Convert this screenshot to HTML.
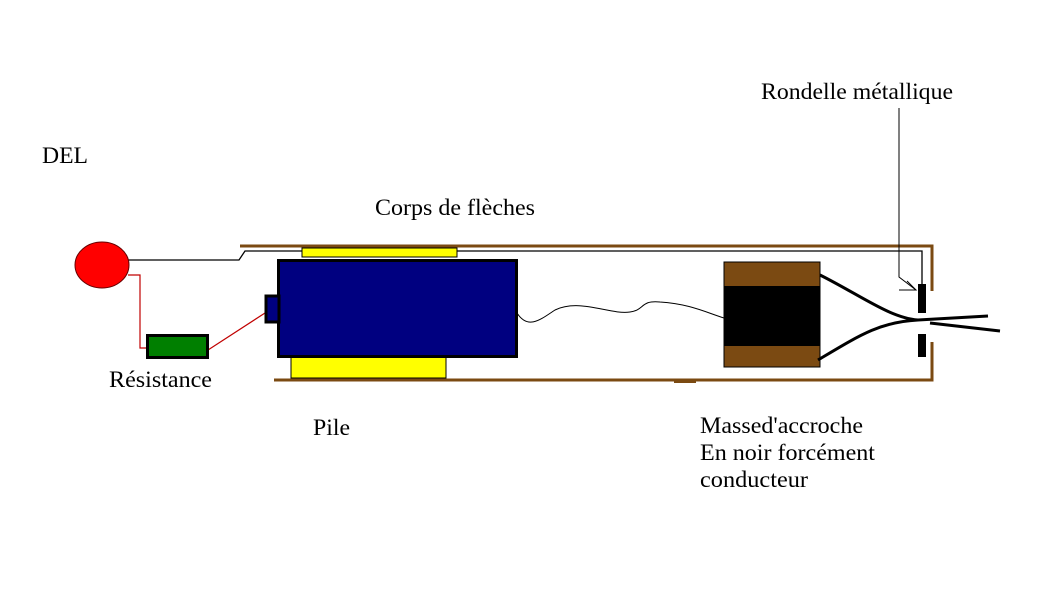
<!DOCTYPE html>
<html><head><meta charset="utf-8"><style>
html,body{margin:0;padding:0;background:#fff;}
svg{display:block;}
text{font-family:"Liberation Serif",serif;font-size:23px;fill:#000;}
</style></head><body>
<svg width="1042" height="615" viewBox="0 0 1042 615" xmlns="http://www.w3.org/2000/svg">
<rect width="1042" height="615" fill="#fff"/>
<g stroke="#7b4a12" stroke-width="3" fill="none">
<polyline points="240,246 932,246 932,291"/>
<polyline points="932,342 932,380 274,380"/>
<line x1="674" y1="381" x2="696" y2="381" stroke-width="4"/>
</g>
<polyline points="128,260 239,260 245,251 922,251 922,284" fill="none" stroke="#000" stroke-width="1.3"/>
<polyline points="899,108 899,277 916,290" fill="none" stroke="#000" stroke-width="1"/>
<polyline points="899,290 916,290 907,281" fill="none" stroke="#000" stroke-width="1"/>
<polyline points="128,275 140,275 140,348 147,348" fill="none" stroke="#c00000" stroke-width="1.2"/>
<line x1="208" y1="350" x2="265" y2="313" stroke="#c00000" stroke-width="1.2"/>
<ellipse cx="102" cy="265" rx="27" ry="23" fill="#ff0000" stroke="#600" stroke-width="1"/>
<rect x="147.5" y="335.5" width="60" height="22" fill="#007f00" stroke="#000" stroke-width="3"/>
<rect x="302" y="248" width="155" height="9" fill="#ffff00" stroke="#000" stroke-width="1"/>
<rect x="291" y="357" width="155" height="21" fill="#ffff00" stroke="#000" stroke-width="1"/>
<rect x="278.5" y="260.5" width="238" height="96" fill="#000080" stroke="#000" stroke-width="3"/>
<rect x="266" y="296" width="13" height="26" fill="#000080" stroke="#000" stroke-width="3"/>
<path d="M517,313 C528,330 540,320 555,310 C580,298 610,315 630,312 C645,310 640,300 660,302 C690,304 705,312 724,318" fill="none" stroke="#000" stroke-width="1"/>
<rect x="724" y="262" width="96" height="105" fill="#7b4a12" stroke="#000" stroke-width="1"/>
<rect x="724" y="286" width="96" height="60" fill="#000"/>
<path d="M820,275 C860,295 890,318 918,320 L988,316" fill="none" stroke="#000" stroke-width="3"/>
<path d="M818,360 C860,335 880,322 918,320" fill="none" stroke="#000" stroke-width="3"/>
<line x1="930" y1="323" x2="1000" y2="331" stroke="#000" stroke-width="3"/>
<rect x="918" y="284" width="8" height="29" fill="#000"/>
<rect x="918" y="334" width="8" height="23" fill="#000"/>
<text x="42" y="163" textLength="46" lengthAdjust="spacingAndGlyphs">DEL</text>
<text x="375" y="215" textLength="160" lengthAdjust="spacingAndGlyphs">Corps de flèches</text>
<text x="109" y="387" textLength="103" lengthAdjust="spacingAndGlyphs">Résistance</text>
<text x="313" y="435" textLength="37" lengthAdjust="spacingAndGlyphs">Pile</text>
<text x="761" y="99" textLength="192" lengthAdjust="spacingAndGlyphs">Rondelle métallique</text>
<text x="700" y="433" textLength="163" lengthAdjust="spacingAndGlyphs">Massed'accroche</text>
<text x="700" y="460" textLength="175" lengthAdjust="spacingAndGlyphs">En noir forcément</text>
<text x="700" y="487" textLength="108" lengthAdjust="spacingAndGlyphs">conducteur</text>
</svg>
</body></html>
